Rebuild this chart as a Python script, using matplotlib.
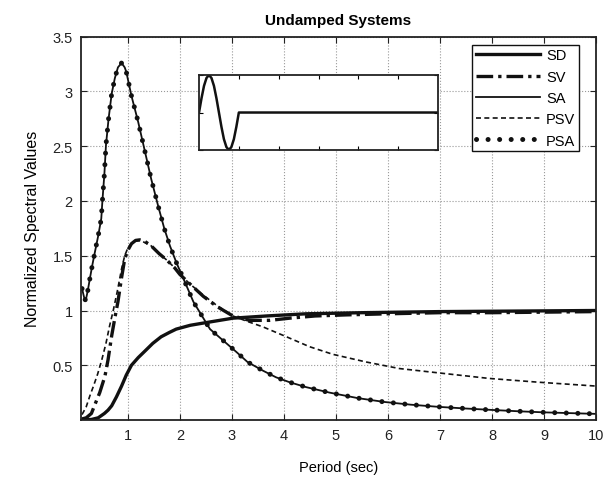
import matplotlib
matplotlib.use("Agg")
import matplotlib.pyplot as plt

plt.rcParams['font.family'] = ['Liberation Sans', 'DejaVu Sans']

# Spectral displacement (SD)
sd_period = [0.12, 0.30, 0.43, 0.55, 0.62, 0.69, 0.78, 0.88, 0.97, 1.07, 1.20, 1.33,
             1.48, 1.64, 1.80, 1.93, 2.20, 2.51, 3.02, 3.66, 4.43, 5.50, 7.00, 8.50, 10.0]
sd_value = [0.0, 0.005, 0.02, 0.06, 0.09, 0.13, 0.21, 0.31, 0.41, 0.50, 0.57, 0.63,
            0.70, 0.76, 0.80, 0.83, 0.865, 0.89, 0.93, 0.95, 0.97, 0.98, 0.99, 0.995, 1.0]

# Spectral velocity (SV)
sv_period = [0.12, 0.20, 0.30, 0.40, 0.46, 0.56, 0.62, 0.69, 0.75, 0.81, 0.88, 0.94,
             1.00, 1.07, 1.15, 1.23, 1.33, 1.45, 1.60, 1.75, 1.90, 2.00, 2.20, 2.45,
             2.70, 3.02, 3.34, 3.73, 4.11, 4.60, 5.20, 6.00, 7.00, 8.00, 9.00, 10.0]
sv_value = [0.01, 0.02, 0.06, 0.18, 0.25, 0.40, 0.55, 0.77, 0.93, 1.08, 1.30, 1.47,
            1.55, 1.61, 1.64, 1.645, 1.63, 1.59, 1.52, 1.46, 1.39, 1.33, 1.24, 1.13,
            1.04, 0.95, 0.91, 0.91, 0.93, 0.95, 0.96, 0.97, 0.98, 0.98, 0.985, 0.99]

# Spectral acceleration (SA)
sa_period = [0.12, 0.16, 0.19, 0.23, 0.27, 0.32, 0.37, 0.43, 0.49, 0.51, 0.55, 0.58,
             0.63, 0.69, 0.75, 0.81, 0.88, 0.94, 0.97, 1.07, 1.20, 1.33, 1.45, 1.58,
             1.70, 1.81, 1.94, 2.07, 2.26, 2.58, 3.09, 3.30, 3.60, 3.85, 4.11, 4.43,
             4.88, 5.42, 5.93, 6.44, 6.98, 7.50, 8.00, 8.50, 9.00, 9.50, 10.0]
sa_value = [1.20, 1.12, 1.09, 1.18, 1.29, 1.42, 1.54, 1.68, 1.84, 1.99, 2.25, 2.51,
            2.75, 2.98, 3.12, 3.22, 3.26, 3.22, 3.18, 2.96, 2.72, 2.45, 2.20, 1.96,
            1.75, 1.59, 1.43, 1.29, 1.08, 0.83, 0.62, 0.53, 0.45, 0.39, 0.345, 0.30,
            0.25, 0.20, 0.165, 0.14, 0.12, 0.105, 0.092, 0.08, 0.07, 0.063, 0.056]

# Pseudo spectral velocity (PSV)
psv_period = [0.12, 0.20, 0.27, 0.34, 0.42, 0.50, 0.58, 0.65, 0.72, 0.80, 0.88, 0.94,
              1.00, 1.07, 1.15, 1.23, 1.33, 1.45, 1.60, 1.75, 1.90, 2.00, 2.20, 2.45,
              2.70, 3.02, 3.30, 3.60, 4.05, 4.49, 4.94, 5.58, 6.22, 6.98, 7.94, 8.90, 10.0]
psv_value = [0.05, 0.12, 0.22, 0.31, 0.42, 0.55, 0.70, 0.86, 1.00, 1.18, 1.38, 1.50,
             1.57, 1.61, 1.635, 1.64, 1.62, 1.59, 1.52, 1.46, 1.39, 1.33, 1.24, 1.14,
             1.05, 0.95, 0.90, 0.85, 0.76, 0.67, 0.60, 0.53, 0.47, 0.43, 0.38, 0.345, 0.31]

# Pseudo spectral acceleration (PSA) coincides with SA for undamped systems
psa_period = sa_period
psa_value = sa_value

# One-cycle sine pulse excitation shown in the inset
pulse_time = [0.0, 0.0625, 0.125, 0.1875, 0.25, 0.3125, 0.375, 0.4375, 0.5,
              0.5625, 0.625, 0.6875, 0.75, 0.8125, 0.875, 0.9375, 1.0, 6.0]
pulse_value = [0.0, 0.38, 0.71, 0.92, 1.0, 0.92, 0.71, 0.38, 0.0,
               -0.38, -0.71, -0.92, -1.0, -0.92, -0.71, -0.38, 0.0, 0.0]

x_ticks = [1, 2, 3, 4, 5, 6, 7, 8, 9, 10]
y_ticks = [0.5, 1, 1.5, 2, 2.5, 3, 3.5]

fig = plt.figure(figsize=(6.04, 4.81), dpi=100)
ax = fig.add_axes([0.1341, 0.1247, 0.8527, 0.7969])

ink = '#111111'
ax.plot(sd_period, sd_value, color=ink, lw=2.4, ls='-', label='SD')
ax.plot(sv_period, sv_value, color=ink, lw=2.4, ls=(0, (5, 1.5, 1, 1.5)), label='SV')
ax.plot(sa_period, sa_value, color=ink, lw=1.3, ls='-', label='SA')
ax.plot(psv_period, psv_value, color=ink, lw=1.2, ls=(0, (3, 2)), label='PSV')
ax.plot(psa_period, psa_value, color=ink, lw=3.6, ls=(0, (0.01, 2.3)),
        dash_capstyle='round', label='PSA')

ax.set_xlim(0.1, 10)
ax.set_ylim(0, 3.5)
ax.set_xticks(x_ticks)
ax.set_xticklabels([str(t) for t in x_ticks])
ax.set_yticks(y_ticks)
ax.set_yticklabels(['0.5', '1', '1.5', '2', '2.5', '3', '3.5'])
ax.tick_params(direction='in', length=4, width=0.8, labelsize=10.5, top=True, right=True,
               pad=6, colors='#222222')
ax.grid(True, color='#999999', ls=':', lw=0.8)
for s in ax.spines.values():
    s.set_linewidth(1.3)
    s.set_color('#222222')

ax.set_title('Undamped Systems', fontsize=11, fontweight='bold', pad=9)
ax.set_xlabel('Period (sec)', fontsize=10.5, labelpad=13)
ax.set_ylabel('Normalized Spectral Values', fontsize=11.5, labelpad=9)

leg = ax.legend(loc='upper right', bbox_to_anchor=(0.967, 0.979), borderaxespad=0,
                fontsize=10.5, handlelength=4.4, handletextpad=0.4, labelspacing=0.5,
                borderpad=0.25, fancybox=False, framealpha=1, edgecolor=ink)
leg.get_frame().set_linewidth(1.0)

inset = fig.add_axes([0.3295, 0.686, 0.3957, 0.156])
inset.plot(pulse_time, pulse_value, color=ink, lw=1.8)
inset.set_xlim(0, 6)
inset.set_ylim(-1, 1)
inset.set_xticks([1, 2, 3, 4, 5])
inset.set_yticks([-1, 0, 1])
inset.set_xticklabels([])
inset.set_yticklabels([])
inset.tick_params(direction='in', length=3, top=True, right=True)
for s in inset.spines.values():
    s.set_linewidth(1.3)
    s.set_color('#222222')

fig.savefig('out.png', dpi=100)
